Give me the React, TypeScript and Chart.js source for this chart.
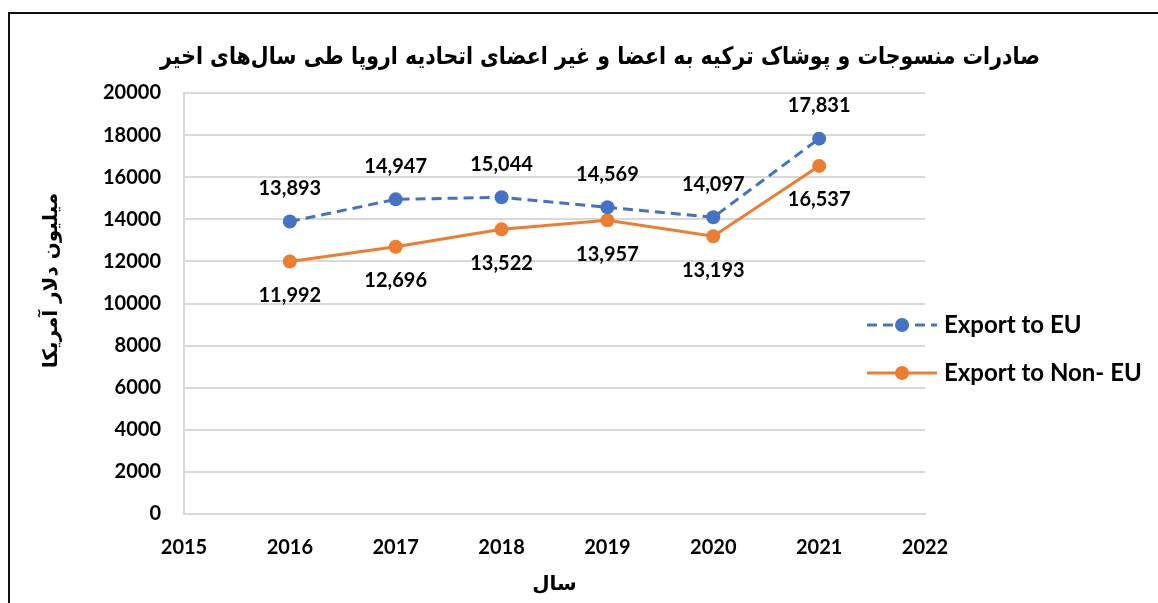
import React, { useEffect, useRef } from "react";
import { Chart, registerables } from "chart.js";

Chart.register(...registerables);

const years = [2016, 2017, 2018, 2019, 2020, 2021];
const exportEU = [13893, 14947, 15044, 14569, 14097, 17831];
const exportNonEU = [11992, 12696, 13522, 13957, 13193, 16537];
const seriesNames = ["Export to EU", "Export to Non- EU"];
const seriesColors = ["#4472C4", "#ED7D31"];
const xMin = 2015;
const xMax = 2022;
const yMin = 0;
const yMax = 20000;
const yStep = 2000;
const titleText = "صادرات منسوجات و پوشاک ترکیه به اعضا و غیر اعضای اتحادیه اروپا طی سال‌های اخیر";
const yTitleText = "میلیون دلار آمریکا";
const xTitleText = "سال";

const LATIN = "Lato, 'Open Sans', sans-serif";
const ARABIC = "'DejaVu Sans', sans-serif";

const dataLabelPlugin = {
  id: "dataLabels",
  afterDatasetsDraw(chart: any) {
    const ctx = chart.ctx;
    ctx.save();
    ctx.font = `bold 20px ${LATIN}`;
    ctx.fillStyle = "#000";
    ctx.textAlign = "center";
    ctx.textBaseline = "middle";
    chart.data.datasets.forEach((ds: any, i: number) => {
      const meta = chart.getDatasetMeta(i);
      meta.data.forEach((pt: any, j: number) => {
        const v = ds.data[j].y as number;
        const txt = v.toLocaleString("en-US");
        const y = i === 0 ? pt.y - 33 : pt.y + 34;
        ctx.fillText(txt, pt.x, y);
      });
    });
    ctx.restore();
  },
};

const extrasPlugin = {
  id: "extras",
  afterDraw(chart: any) {
    const ctx = chart.ctx;
    const area = chart.chartArea;

    // chart title
    ctx.save();
    ctx.font = `bold 24px ${ARABIC}`;
    ctx.fillStyle = "#000";
    ctx.textAlign = "center";
    ctx.textBaseline = "middle";
    ctx.fillText(titleText, chart.width / 2 + 21, 58, 880);
    ctx.restore();

    // y axis title
    ctx.save();
    ctx.translate(52, (area.top + area.bottom) / 2 - 23);
    ctx.rotate(-Math.PI / 2);
    ctx.font = `bold 20px ${ARABIC}`;
    ctx.fillStyle = "#000";
    ctx.textAlign = "center";
    ctx.textBaseline = "middle";
    ctx.fillText(yTitleText, 0, 0);
    ctx.restore();

    // legend
    chart.data.datasets.forEach((ds: any, i: number) => {
      const cy = area.top + 232 + i * 48;
      const x0 = area.right - 58;
      const x1 = area.right + 12;
      ctx.save();
      ctx.strokeStyle = ds.borderColor;
      ctx.lineWidth = 3;
      ctx.setLineDash(ds.borderDash || []);
      ctx.beginPath();
      ctx.moveTo(x0, cy);
      ctx.lineTo(x1, cy);
      ctx.stroke();
      ctx.setLineDash([]);
      ctx.fillStyle = ds.backgroundColor;
      ctx.beginPath();
      ctx.arc((x0 + x1) / 2, cy, 7, 0, Math.PI * 2);
      ctx.fill();
      ctx.font = `bold 24px ${LATIN}`;
      ctx.fillStyle = "#000";
      ctx.textAlign = "left";
      ctx.textBaseline = "middle";
      ctx.fillText(ds.label, area.right + 19, cy);
      ctx.restore();
    });
  },
};

export default function App() {
  const ref = useRef<HTMLCanvasElement | null>(null);

  useEffect(() => {
    if (!ref.current) return;
    const mk = (vals: number[]) => years.map((x, i) => ({ x, y: vals[i] }));
    const chart = new Chart(ref.current, {
      type: "line",
      data: {
        datasets: [
          {
            label: seriesNames[0],
            data: mk(exportEU),
            borderColor: seriesColors[0],
            backgroundColor: seriesColors[0],
            borderWidth: 3,
            borderDash: [10, 6],
            pointRadius: 7,
            pointBorderWidth: 0,
            pointBackgroundColor: seriesColors[0],
            tension: 0,
          },
          {
            label: seriesNames[1],
            data: mk(exportNonEU),
            borderColor: seriesColors[1],
            backgroundColor: seriesColors[1],
            borderWidth: 3,
            pointRadius: 7,
            pointBorderWidth: 0,
            pointBackgroundColor: seriesColors[1],
            tension: 0,
          },
        ],
      },
      options: {
        responsive: false,
        animation: false,
        devicePixelRatio: 1,
        layout: { padding: { top: 93, left: 20, right: 233, bottom: 0 } },
        plugins: {
          legend: { display: false },
          tooltip: { enabled: false },
          title: { display: false },
        },
        scales: {
          x: {
            type: "linear",
            min: xMin,
            max: xMax,
            afterFit(s: any) {
              s.height = 89;
            },
            grid: { display: false, drawTicks: false },
            border: { display: true, color: "#D9D9D9", width: 2 },
            ticks: {
              stepSize: 1,
              autoSkip: false,
              maxRotation: 0,
              color: "#000",
              padding: 22,
              font: { family: LATIN, size: 20, weight: "bold" },
              callback: (v: any) => String(v),
            },
            title: {
              display: true,
              text: xTitleText,
              color: "#000",
              font: { family: ARABIC, size: 20, weight: "bold" },
              padding: { top: 0, bottom: 6 },
            },
          },
          y: {
            min: yMin,
            max: yMax,
            afterFit(s: any) {
              s.width = 164;
            },
            grid: { color: "#D9D9D9", lineWidth: 2, drawTicks: false },
            border: { display: true, color: "#D9D9D9", width: 2 },
            ticks: {
              stepSize: yStep,
              color: "#000",
              padding: 23,
              font: { family: LATIN, size: 20, weight: "bold" },
              callback: (v: any) => String(v),
            },
          },
        },
      },
      plugins: [dataLabelPlugin, extrasPlugin],
    } as any);
    return () => chart.destroy();
  }, []);

  return (
    <>
      <canvas
        ref={ref}
        width={1158}
        height={603}
        style={{ position: "fixed", left: 0, top: 0, width: 1158, height: 603 }}
      />
      <div
        style={{
          position: "fixed",
          left: 8,
          top: 12,
          width: 1300,
          height: 800,
          borderTop: "2px solid #111",
          borderLeft: "2px solid #111",
          pointerEvents: "none",
          boxSizing: "border-box",
        }}
      />
    </>
  );
}
